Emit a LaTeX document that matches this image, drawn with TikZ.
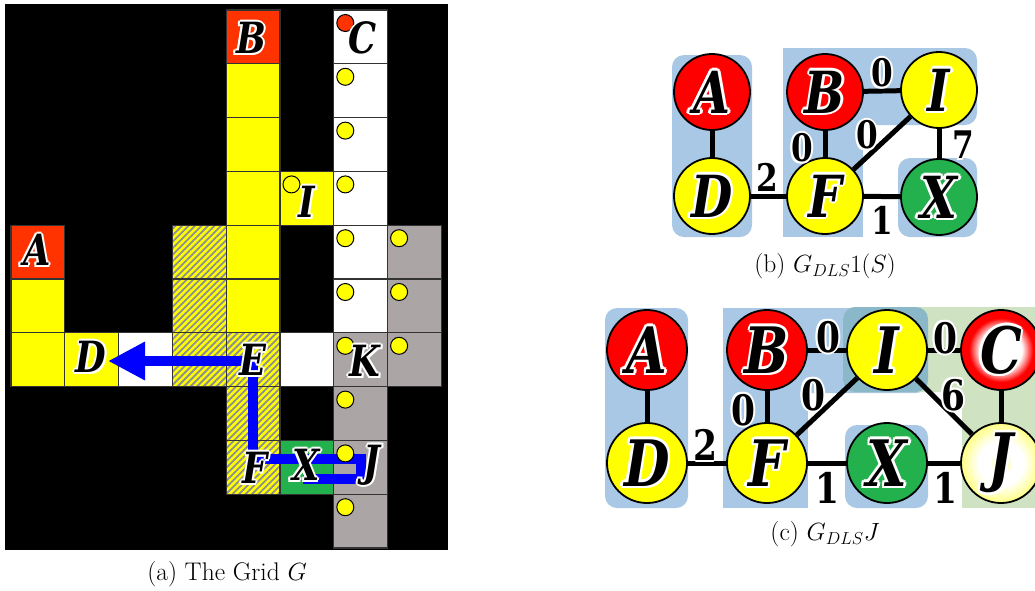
\documentclass[tikz,border=0pt]{standalone}
\usepackage{fontspec}
\newfontfamily\lblfont{DejaVu Serif}[FakeStretch=0.82]
\usetikzlibrary{arrows.meta,patterns.meta}

\definecolor{gOrange}{RGB}{255,51,0}
\definecolor{gYellow}{RGB}{255,255,0}
\definecolor{gGray}{RGB}{171,166,165}
\definecolor{gGreen}{RGB}{34,177,76}
\definecolor{gBlue}{RGB}{0,0,255}
\definecolor{gHatch}{RGB}{140,140,150}
\definecolor{rBlue}{RGB}{168,200,230}
\definecolor{rGreen}{RGB}{207,227,195}
\definecolor{rTeal}{RGB}{138,184,200}
\definecolor{nRed}{RGB}{255,0,0}
\definecolor{nGreen}{RGB}{34,177,76}

\pgfdeclareradialshading{cShade}{\pgfpoint{0bp}{0bp}}{color(0bp)=(white); color(13bp)=(white); color(20bp)=(nRed); color(50bp)=(nRed)}
\pgfdeclareradialshading{jShade}{\pgfpoint{0bp}{0bp}}{color(0bp)=(gYellow); color(2.5bp)=(gYellow!60!white); color(7bp)=(white); color(14bp)=(white); color(24bp)=(gYellow!45!white); color(50bp)=(gYellow!45!white)}

\newcommand\gcopy[3]{\rlap{\hspace*{#1}\raisebox{#2}{\color{white}#3}}}
\newcommand\glowgen[3]{\leavevmode\gcopy{#1}{0pt}{#3}\gcopy{-#1}{0pt}{#3}\gcopy{0pt}{#1}{#3}\gcopy{0pt}{-#1}{#3}\gcopy{#2}{#2}{#3}\gcopy{-#2}{#2}{#3}\gcopy{#2}{-#2}{#3}\gcopy{-#2}{-#2}{#3}#3}
\newcommand\glow[1]{\glowgen{2pt}{1.4pt}{#1}}
\newcommand\bigglow[1]{\glowgen{2.6pt}{1.8pt}{#1}}

\newcommand\cellat[3]{\path[#3] ({11+53.8*#1},{10+53.8*#2}) rectangle ++(53.8,53.8);}
\newcommand\dotat[3]{\path[#3] ({11+53.8*#1+11.5},{10+53.8*#2+13}) circle (8.5);}

\tikzset{
  cellbox/.style={draw=black!80, line width=1.3pt},
  hatchcell/.style={cellbox, preaction={fill=gYellow}, pattern={Lines[angle=45,distance=4.6pt,line width=1.8pt]}, pattern color=gHatch},
  griddot/.style={draw=black, line width=1pt},
  bluepath/.style={draw=gBlue, line width=10pt, line join=miter},
  gridlbl/.style={inner sep=0pt, font=\lblfont\bfseries\itshape\fontsize{43}{43}\selectfont},
  gnodeb/.style={circle, draw=black, line width=1.8pt, minimum size=76pt, inner sep=0pt, font=\lblfont\bfseries\itshape\fontsize{58}{58}\selectfont},
  gnodec/.style={circle, draw=black, line width=1.8pt, minimum size=80pt, inner sep=0pt, font=\lblfont\bfseries\itshape\fontsize{64}{64}\selectfont},
  gedge/.style={draw=black, line width=5pt},
  wlblb/.style={inner sep=0pt, font=\lblfont\bfseries\fontsize{38}{38}\selectfont},
  wlblc/.style={inner sep=0pt, font=\lblfont\bfseries\fontsize{42}{42}\selectfont},
  caption/.style={inner sep=0pt, font=\fontsize{25.5}{30}\selectfont},
  region/.style={rounded corners=12pt}
}

\begin{document}
\begin{tikzpicture}[x=1pt,y=-1pt]
\useasboundingbox (0,0) rectangle (1035,590);
\fill[white] (0,0) rectangle (1035,590);

% ---------------- (a) the grid ----------------
\fill[black] (5,4) rectangle (448,550);
\foreach \c/\r in {4/0,0/4} {\cellat{\c}{\r}{cellbox, fill=gOrange}}
\foreach \c/\r in {6/0,6/1,6/2,6/3,6/4,6/5,2/6,5/6} {\cellat{\c}{\r}{cellbox, fill=white}}
\foreach \c/\r in {4/1,4/2,4/3,5/3,4/4,4/5,0/5,0/6,1/6} {\cellat{\c}{\r}{cellbox, fill=gYellow}}
\foreach \c/\r in {3/4,3/5,3/6,4/6,4/7,4/8} {\cellat{\c}{\r}{hatchcell}}
\foreach \c/\r in {7/4,7/5,6/6,7/6,6/7,6/8,6/9} {\cellat{\c}{\r}{cellbox, fill=gGray}}
\cellat{5}{8}{cellbox, fill=gGreen}

\coordinate (gE) at (253,361);
\coordinate (gD) at (108,361);
\coordinate (gF) at (253,459);
\coordinate (gJa) at (361,459);
\coordinate (gJb) at (361,479);
\coordinate (gX) at (303,479);
\draw[bluepath, -{Triangle[length=37pt 0 0,width=36pt 0 0]}] (gE) -- (gD);
\draw[bluepath] (gE) -- (gF) -- (gJa) -- (gJb) -- (gX);

\dotat{6}{0}{griddot, fill=gOrange}
\foreach \c/\r in {6/1,6/2,6/3,6/4,6/5,5/3,7/4,7/5,6/6,7/6,6/7,6/8,6/9} {\dotat{\c}{\r}{griddot, fill=gYellow}}

\node[gridlbl] (lB) at (251,38) {\glow{B}};
\node[gridlbl] (lC) at (363,38) {\glow{C}};
\node[gridlbl] (lI) at (307,202) {\glow{I}};
\node[gridlbl] (lA) at (37,250) {\glow{A}};
\node[gridlbl] (lD) at (91,357) {\glow{D}};
\node[gridlbl] (lE) at (253,360) {\glow{E}};
\node[gridlbl] (lK) at (365,361) {\glow{K}};
\node[gridlbl] (lF) at (255,468) {\glow{F}};
\node[gridlbl] (lX) at (306,465) {\glow{X}};
\node[gridlbl] (lJ) at (372,465) {\glow{J}};

\node[caption] (capa) at (227,574) {(a) The Grid $G$};

% ---------------- (b) ----------------
\fill[rBlue, region] (672,55) rectangle (752,237);
\fill[rBlue, region] (783,48) rectangle (977,125);
\fill[rBlue] (783,48) rectangle (863,237);
\fill[rBlue, region] (898,158) rectangle (977,237);

\node[gnodeb, fill=nRed] (bA) at (712,92) {\bigglow{A}};
\node[gnodeb, fill=nRed] (bB) at (825,92) {\bigglow{B}};
\node[gnodeb, fill=gYellow] (bI) at (939,90) {\bigglow{I}};
\node[gnodeb, fill=gYellow] (bD) at (712,196) {\bigglow{D}};
\node[gnodeb, fill=gYellow] (bF) at (825,196) {\bigglow{F}};
\node[gnodeb, fill=nGreen] (bX) at (939,197) {\bigglow{X}};

\draw[gedge] (bA) -- (bD);
\draw[gedge] (bD) -- (bF);
\draw[gedge] (bB) -- (bF);
\draw[gedge] (bB) -- (bI);
\draw[gedge] (bF) -- (bI);
\draw[gedge] (bI) -- (bX);
\draw[gedge] (bF) -- (bX);

\node[wlblb] (wb1) at (882,73) {\glow{0}};
\node[wlblb] (wb2) at (802,148) {\glow{0}};
\node[wlblb] (wb3) at (867,135) {\glow{0}};
\node[wlblb] (wb4) at (963,145) {\glow{7}};
\node[wlblb] (wb5) at (767,177) {\glow{2}};
\node[wlblb] (wb6) at (882,220) {\glow{1}};

\node[caption] (capb) at (825,266) {(b) $G_{DLS}1(S)$};

% ---------------- (c) ----------------
\fill[rBlue, region] (605,308) rectangle (688,508);
\fill[rBlue, region] (723,308) rectangle (928,393);
\fill[rBlue] (723,308) rectangle (808,508);
\fill[rGreen] (962,307) rectangle (1040,508);
\fill[rGreen, region] (843,307) rectangle (1040,392);
\fill[rTeal, region] (843,307) rectangle (928,392);
\fill[rBlue, region] (845,425) rectangle (928,508);

\node[gnodec, fill=nRed] (cA) at (647,350) {\bigglow{A}};
\node[gnodec, fill=nRed] (cB) at (767,350) {\bigglow{B}};
\node[gnodec, fill=gYellow] (cI) at (887,350) {\bigglow{I}};
\node[gnodec, shading=cShade] (cC) at (1001,350) {\bigglow{C}};
\node[gnodec, fill=gYellow] (cD) at (647,463) {\bigglow{D}};
\node[gnodec, fill=gYellow] (cF) at (767,463) {\bigglow{F}};
\node[gnodec, fill=nGreen] (cX) at (887,463) {\bigglow{X}};
\node[gnodec, shading=jShade] (cJ) at (1001,463) {\bigglow{J}};

\draw[gedge] (cA) -- (cD);
\draw[gedge] (cD) -- (cF);
\draw[gedge] (cB) -- (cF);
\draw[gedge] (cB) -- (cI);
\draw[gedge] (cF) -- (cI);
\draw[gedge] (cI) -- (cC);
\draw[gedge] (cI) -- (cJ);
\draw[gedge] (cC) -- (cJ);
\draw[gedge] (cF) -- (cX);
\draw[gedge] (cX) -- (cJ);

\node[wlblc] (wc1) at (828,337) {\glow{0}};
\node[wlblc] (wc2) at (743,410) {\glow{0}};
\node[wlblc] (wc3) at (813,395) {\glow{0}};
\node[wlblc] (wc4) at (945,338) {\glow{0}};
\node[wlblc] (wc5) at (953,395) {\glow{6}};
\node[wlblc] (wc6) at (705,445) {\glow{2}};
\node[wlblc] (wc7) at (827,488) {\glow{1}};
\node[wlblc] (wc8) at (945,488) {\glow{1}};

\node[caption] (capc) at (825,534) {(c) $G_{DLS}J$};
\end{tikzpicture}
\end{document}
